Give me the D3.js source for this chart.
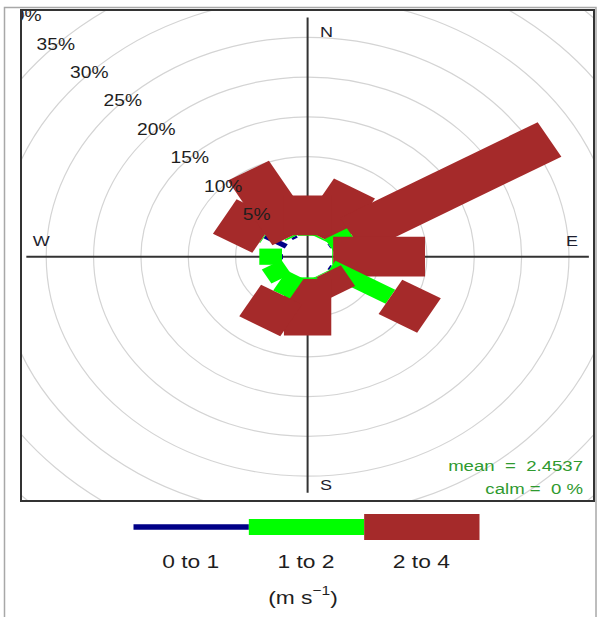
<!DOCTYPE html>
<html>
<head>
<meta charset="utf-8">
<script src="https://d3js.org/d3.v7.min.js"></script>
<style>
    body { margin: 0; background: #fff; }
    text { font-family: "Liberation Sans", Arial, sans-serif; }
</style>
</head>
<body>
<svg id="rose" width="601" height="617"></svg>
<script>
    // wind directions (deg), in the order the paddles are drawn
    const directions = [30, 60, 90, 120, 150, 180, 210, 240, 270, 300, 330, 360];
    // frequency (%) of each speed bin per direction
    const freq0to1 = [0, 0.1, 0, 0.2, 0, 0, 0, 0, 0.1, 2.6, 0.3, 0];
    const freq1to2 = [0.2, 2.7, 0.1, 7.3, 0.1, 0.2, 2.9, 2.4, 2.4, 0.1, 0.2, 0.1];
    const freq2to4 = [7.1, 24.1, 9.7, 4.7, 3.0, 7.1, 4.6, 0, 0, 4.8, 9.4, 5.0];
    const binLabels = ["0 to 1", "1 to 2", "2 to 4"];
    const binColors = ["#000087", "#00ff00", "#a52a2a"];
    const ringTicks = [5, 10, 15, 20, 25, 30, 35, 40];
    const meanSpeed = "2.4537", calmPct = "0";

    const svg = d3.select("#rose");

    // geometry (picture is stretched horizontally, so two scales)
    const offSet = 2.6, axisMax = 29.7;
    const cx = 307.6, cy = 256.7, kx = 9.47, ky = 7.95;
    const x = d3.scaleLinear().domain([0, 1]).range([cx, cx + kx]);
    const y = d3.scaleLinear().domain([0, 1]).range([cy, cy - ky]);
    const halfWidth = [0.31, 1.02, 2.5]; // paddle half widths per bin
    const stretch = 1.2;

    // outer frame and panel
    svg.append("rect")
        .attr("x", 4.5).attr("y", 7.5).attr("width", 591.5).attr("height", 630)
        .attr("fill", "none").attr("stroke", "#a8a8a8").attr("stroke-width", 1.5);

    svg.append("clipPath").attr("id", "panel")
        .append("rect").attr("x", 21).attr("y", 10).attr("width", 573).attr("height", 491);

    const g = svg.append("g").attr("clip-path", "url(#panel)");

    function label(sel, px, py, str, size, anchor, fill) {
        return sel.append("text")
            .attr("transform", `translate(${px},${py}) scale(${stretch},1)`)
            .attr("text-anchor", anchor)
            .attr("font-size", size)
            .attr("fill", fill)
            .style("white-space", "pre")
            .text(str);
    }

    // rings
    g.selectAll("ellipse.ring")
        .data(ringTicks)
        .join("ellipse")
        .attr("class", "ring")
        .attr("cx", x(0)).attr("cy", y(0))
        .attr("rx", d => x(d + offSet) - x(0))
        .attr("ry", d => y(0) - y(d + offSet))
        .attr("fill", "none")
        .attr("stroke", "#d4d4d4")
        .attr("stroke-width", 1.2);

    // axes
    g.append("line")
        .attr("x1", x(-axisMax)).attr("x2", x(axisMax))
        .attr("y1", y(0)).attr("y2", y(0))
        .attr("stroke", "#333").attr("stroke-width", 2);
    g.append("line")
        .attr("x1", x(0)).attr("x2", x(0))
        .attr("y1", y(axisMax + 0.4)).attr("y2", y(-axisMax))
        .attr("stroke", "#333").attr("stroke-width", 2);

    // paddles
    function paddle(wdDeg, len1, len2, w) {
        const a = wdDeg * Math.PI / 180, s = Math.sin(a), c = Math.cos(a);
        const r1 = len1 + offSet, r2 = len2 + offSet;
        return [
            [r1 * s - w * c, r1 * c + w * s],
            [r1 * s + w * c, r1 * c - w * s],
            [r2 * s + w * c, r2 * c - w * s],
            [r2 * s - w * c, r2 * c + w * s]
        ].map(p => x(p[0]) + "," + y(p[1])).join(" ");
    }

    const bins = [freq0to1, freq1to2, freq2to4];
    directions.forEach((wd, i) => {
        let cum = 0;
        bins.forEach((b, j) => {
            const v = b[i];
            if (v > 0) {
                g.append("polygon")
                    .attr("points", paddle(wd, cum, cum + v, halfWidth[j]))
                    .attr("fill", binColors[j]);
            }
            cum += v;
        });
    });

    // ring labels along 315 deg
    const s315 = Math.sin(315 * Math.PI / 180), c315 = Math.cos(315 * Math.PI / 180);
    ringTicks.forEach(p => {
        const r = p + offSet;
        label(g, x(r * s315), y(r * c315 * 1.01) + 6.5, p + "%", 16, "middle", "#1e1e1e");
    });

    // compass labels
    label(g, x(2.0), y(axisMax * 0.953) + 5.5, "N", 15, "middle", "#1e1e2e");
    label(g, x(axisMax * 0.94), y(2.0) + 5.5, "E", 15, "middle", "#1e1e2e");
    label(g, x(-axisMax * 0.947), y(2.1) + 5.5, "W", 15, "middle", "#1e1e2e");
    label(g, x(1.95), y(-axisMax * 0.963) + 5.5, "S", 15, "middle", "#1e1e2e");

    // statistics
    label(g, 583, 470.5, "mean  =  " + meanSpeed, 15.5, "end", "#2f9a2f");
    label(g, 583, 493.5, "calm =  " + calmPct + " %", 15.5, "end", "#2f9a2f");

    // panel border
    svg.append("rect")
        .attr("x", 21).attr("y", 10).attr("width", 573).attr("height", 491)
        .attr("fill", "none").attr("stroke", "#333").attr("stroke-width", 2);

    // legend
    const keyHeights = [5.5, 16, 26];
    const keyX = d3.scaleBand().domain(binLabels).range([133.5, 479.5]);
    const key = svg.append("g");
    key.selectAll("rect")
        .data(binLabels)
        .join("rect")
        .attr("x", d => keyX(d))
        .attr("width", keyX.bandwidth())
        .attr("y", (d, i) => 527 - keyHeights[i] / 2)
        .attr("height", (d, i) => keyHeights[i])
        .attr("fill", (d, i) => binColors[i]);
    binLabels.forEach(d => {
        label(key, keyX(d) + keyX.bandwidth() / 2 - 0.5, 568, d, 19, "middle", "#1e1e1e");
    });

    const unit = key.append("text")
        .attr("transform", `translate(303,604) scale(${stretch},1)`)
        .attr("text-anchor", "middle")
        .attr("font-size", 19)
        .attr("fill", "#1e1e1e");
    unit.append("tspan").text("(m s");
    unit.append("tspan").attr("dy", -9).attr("font-size", 13).text("\u22121");
    unit.append("tspan").attr("dy", 9).text(")");
</script>
</body>
</html>
